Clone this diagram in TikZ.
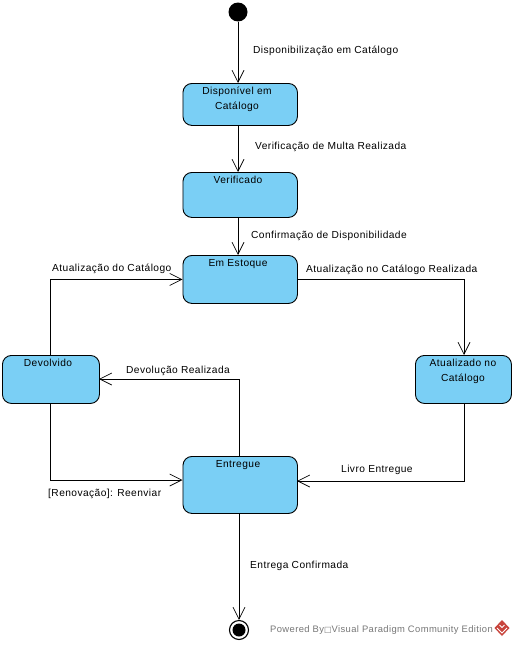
\documentclass[tikz,border=0pt]{standalone}
\usepackage{fontspec}
\setmainfont{Liberation Sans}
\newfontfamily\vpfont[LetterSpace=4.2]{Liberation Sans}
\newfontfamily\boxfont{DejaVu Sans}
\usetikzlibrary{arrows.meta}
\definecolor{statefill}{HTML}{7ACFF5}
\definecolor{wm}{HTML}{777777}
\definecolor{logored}{HTML}{C8443C}
\tikzset{
  statebox/.style={draw=black,fill=statefill,rounded corners=9pt,line width=0.9pt,inner sep=0pt,anchor=north west},
  conn/.style={draw=black,line width=0.9pt,-{Straight Barb[length=12pt,width=12pt,line width=0.7pt]}},
  txt/.style={font=\vpfont\fontsize{10.2}{11}\selectfont,inner sep=0pt,anchor=west,text=black},
  title/.style={font=\vpfont\fontsize{10.2}{15}\selectfont,inner sep=0pt,align=center,anchor=north,text=black},
}
\begin{document}
\begin{tikzpicture}[x=1pt,y=-1pt]
\useasboundingbox[fill=white] (0,0) rectangle (514,645);
\node[circle,fill=black,minimum size=19pt,inner sep=0pt] (start) at (238,12) {};
\node[statebox,minimum width=114.5pt,minimum height=42pt] (disp) at (182.5,83) {};
\node[statebox,minimum width=114.5pt,minimum height=45pt] (verif) at (182.5,172) {};
\node[statebox,minimum width=114.5pt,minimum height=48pt] (est) at (182.5,255) {};
\node[statebox,minimum width=97pt,minimum height=48pt] (dev) at (2,355) {};
\node[statebox,minimum width=96pt,minimum height=48pt] (atu) at (415,355) {};
\node[statebox,minimum width=114.5pt,minimum height=57pt] (ent) at (182.5,456) {};
\node[circle,draw=black,line width=1.1pt,fill=white,minimum size=19pt,inner sep=0pt] (fim) at (239,630) {};
\node[circle,fill=black,minimum size=13pt,inner sep=0pt] at (fim) {};

\node[title] (t1) at (237,87) {Disponível em\\Catálogo};
\node[title] (t2) at (238,176) {Verificado};
\node[title] (t3) at (238,259) {Em Estoque};
\node[title] (t4) at (48,359) {Devolvido};
\node[title] (t5) at (463,359) {Atualizado no\\Catálogo};
\node[title] (t6) at (238,460) {Entregue};

\coordinate (devT) at (50.5,355);
\coordinate (devB) at (50.5,403);
\coordinate (entL) at (182.5,480);
\coordinate (entR) at (297,481);
\coordinate (entT) at (239,456);
\coordinate (entB) at (239,513);
\coordinate (devR) at (99,379);
\coordinate (atuB) at (464,403);

\draw[conn] (start) -- (start|-disp.north);
\draw[conn] (start|-disp.south) -- (start|-verif.north);
\draw[conn] (start|-verif.south) -- (start|-est.north);
\draw[conn] (est.east) -| (atuB|-atu.north);
\draw[conn] (atuB) |- (entR);
\draw[conn] (entT) |- (devR);
\draw[conn] (devB) |- (entL);
\draw[conn] (devT) |- (est.west);
\draw[conn] (entB) -- (fim.north);

\node[txt] (l1) at (253,51) {Disponibilização em Catálogo};
\node[txt] (l2) at (255,147) {Verificação de Multa Realizada};
\node[txt] (l3) at (251,236) {Confirmação de Disponibilidade};
\node[txt] (l4) at (52,268.5) {Atualização do Catálogo};
\node[txt] (l5) at (306,270) {Atualização no Catálogo Realizada};
\node[txt] (l6) at (126,371) {Devolução Realizada};
\node[txt] (l7) at (341,470) {Livro Entregue};
\node[txt] (l8) at (48,494) {[Renovação]: Reenviar};
\node[txt] (l9) at (250,566) {Entrega Confirmada};
\node[txt,text=wm,font=\vpfont\fontsize{9.4}{11}\selectfont] (wmark) at (270,630) {Powered By{\boxfont\fontsize{8}{11}\selectfont □}Visual Paradigm Community Edition};
\fill[logored] (502,620) -- (509.5,628) -- (502,636) -- (494.5,628) -- cycle;
\draw[white,line width=1pt] (497,628) -- (502,633) -- (507,628);
\draw[white,line width=1pt] (499.5,625) -- (502,627.5) -- (504.5,625);
\end{tikzpicture}
\end{document}
